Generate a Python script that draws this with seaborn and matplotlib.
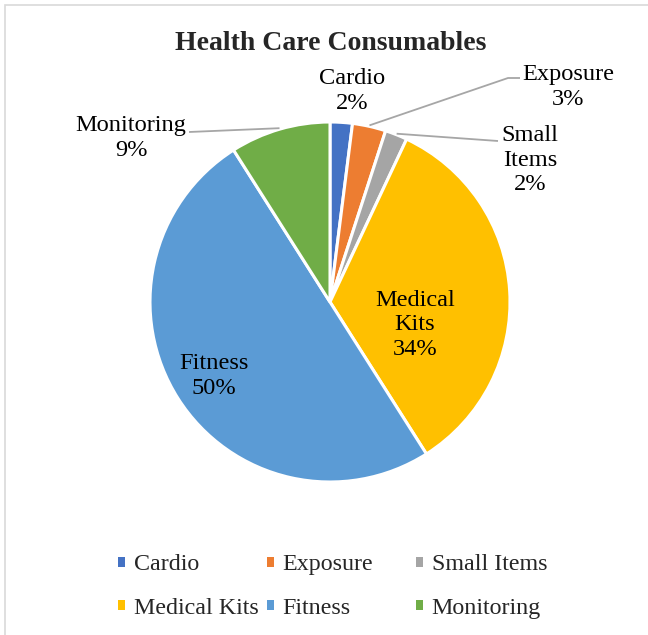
import numpy as np
import matplotlib
matplotlib.use("Agg")
import matplotlib.pyplot as plt
from matplotlib.patches import Patch, Rectangle
import seaborn as sns

# Share of health care consumables by product group (percent)
categories = ["Cardio", "Exposure", "Small Items", "Medical Kits", "Fitness", "Monitoring"]
shares = [2, 3, 2, 34, 50, 9]
slice_labels = ["Cardio", "Exposure", "Small\nItems", "Medical\nKits", "Fitness", "Monitoring"]
colors = ["#4472C4", "#ED7D31", "#A5A5A5", "#FFC000", "#5B9BD5", "#70AD47"]
title = "Health Care Consumables"

sns.set_theme(style="white")
plt.rcParams["font.family"] = ["Liberation Serif", "DejaVu Serif"]

W, H = 648, 635
fig = plt.figure(figsize=(W / 100, H / 100), dpi=100)
ax = fig.add_axes([0, 0, 1, 1])

# work in pixel-like data units (y upwards)
cx, cy, R = 330, H - 302, 180
palette = sns.color_palette(colors)
wedges, _ = ax.pie(
    shares, colors=palette, startangle=90, counterclock=False,
    center=(cx, cy), radius=R,
    wedgeprops=dict(edgecolor="white", linewidth=2.2),
)
ax.set_xlim(0, W)
ax.set_ylim(0, H)
ax.axis("off")

label_pos = {
    "Cardio": (352, 91),
    "Exposure": (568, 87),
    "Small Items": (530, 160),
    "Medical Kits": (415, 325),
    "Fitness": (214, 376),
    "Monitoring": (131, 138),
}
# bends / ends of leader lines, toward each label
leader_path = {
    "Exposure": [(508, 78), (520, 78)],
    "Small Items": [(498, 141)],
    "Monitoring": [(189, 132)],
}

cum = np.cumsum([0] + shares[:-1])
total = sum(shares)
for cat, lab, s, c0 in zip(categories, slice_labels, shares, cum):
    x, y = label_pos[cat]
    ax.text(x, H - y, f"{lab}\n{s}%", ha="center", va="center",
            fontsize=17.6, color="#000000", linespacing=1.2)
    if cat in leader_path:
        theta = np.deg2rad(90 - 360 * (c0 + s / 2) / total)
        r = R + 1
        pts = [(cx + r * np.cos(theta), cy + r * np.sin(theta))]
        pts += [(px, H - py) for px, py in leader_path[cat]]
        xs, ys = zip(*pts)
        ax.plot(xs, ys, color="#A6A6A6", lw=1.3, solid_capstyle="butt")

fig.text(331 / W, 1 - 44 / H, title, ha="center", va="center",
         fontsize=20, fontweight="bold")

# legend: three columns of two entries each
handles = [Patch(facecolor=palette[i], edgecolor="none") for i in range(len(categories))]
col_x = [118, 267, 416]
for k, x0 in enumerate(col_x):
    idx = [k, k + 3]
    fig.legend([handles[i] for i in idx], [categories[i] for i in idx],
               loc="center left", bbox_to_anchor=(x0 / W, 1 - 586.5 / H),
               frameon=False, fontsize=17.3, handlelength=0.3, handleheight=0.3,
               handletextpad=0.35, labelspacing=0.92, borderpad=0, borderaxespad=0)

# chart area frame (left and top edges inside the canvas)
fig.patches.append(Rectangle((5 / W, -1.0), 3.0, 2.0 - 5 / H,
                             transform=fig.transFigure, fill=False,
                             edgecolor="#D9D9D9", lw=1.2, clip_on=False))

fig.savefig("out.png", dpi=100, facecolor="white")
